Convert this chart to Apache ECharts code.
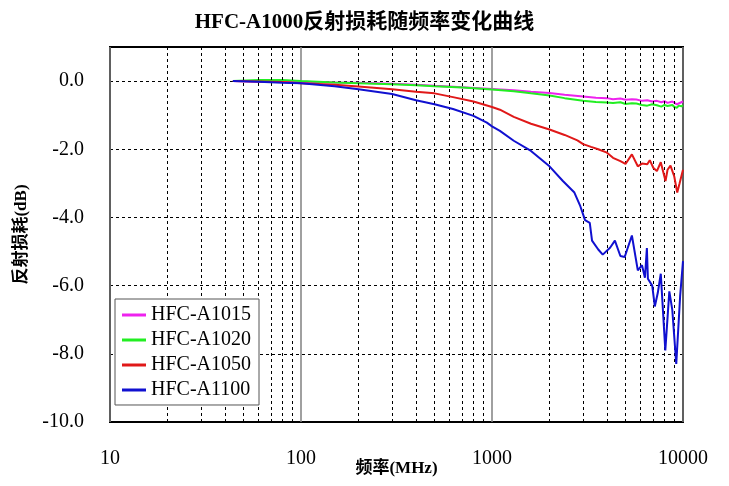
<!DOCTYPE html>
<html><head><meta charset="utf-8">
<script src="https://cdn.jsdelivr.net/npm/echarts@6/dist/echarts.min.js"></script>
<style>html,body{margin:0;padding:0;background:#fff}#c{width:729px;height:486px}</style>
</head><body><div id="c"></div>
<script>
// Frequencies (MHz) and return loss (dB)
const freqA1015 = [44, 60, 80, 100, 150, 200, 300, 400, 500, 700, 1000, 1300, 1600, 2000, 2400, 3000, 3500, 4000, 4300, 4700, 5000, 5400, 5700, 6100, 6500, 6900, 7300, 7700, 8000, 8300, 8500, 8800, 9000, 9300, 9500, 9800, 10000];
const lossA1015 = [0, -0.02, -0.02, -0.02, -0.04, -0.05, -0.08, -0.11, -0.14, -0.18, -0.23, -0.27, -0.31, -0.35, -0.40, -0.45, -0.49, -0.50, -0.53, -0.51, -0.55, -0.53, -0.54, -0.58, -0.56, -0.60, -0.58, -0.62, -0.59, -0.64, -0.66, -0.60, -0.63, -0.68, -0.65, -0.62, -0.60];
const freqA1020 = freqA1015;
const lossA1020 = [0, 0.03, 0.03, 0.0, -0.04, -0.06, -0.09, -0.12, -0.15, -0.19, -0.25, -0.30, -0.36, -0.42, -0.50, -0.58, -0.61, -0.63, -0.64, -0.62, -0.67, -0.65, -0.66, -0.70, -0.72, -0.68, -0.71, -0.75, -0.70, -0.73, -0.77, -0.70, -0.76, -0.78, -0.72, -0.74, -0.71];
const freqA1050 = [44, 60, 80, 100, 150, 200, 300, 400, 500, 625, 800, 1000, 1100, 1300, 1600, 2000, 2400, 2800, 3000, 3300, 3600, 4000, 4300, 4700, 5000, 5400, 5800, 6100, 6500, 6700, 7000, 7300, 7650, 8100, 8300, 8600, 9000, 9330, 9600, 10000];
const lossA1050 = [0, -0.01, -0.03, -0.06, -0.11, -0.16, -0.24, -0.31, -0.36, -0.47, -0.60, -0.76, -0.84, -1.05, -1.25, -1.42, -1.58, -1.74, -1.85, -1.93, -2.0, -2.1, -2.25, -2.35, -2.43, -2.15, -2.50, -2.42, -2.44, -2.32, -2.55, -2.64, -2.38, -2.93, -2.60, -2.48, -2.80, -3.27, -3.00, -2.60];
const freqA1100 = [44, 60, 80, 100, 150, 200, 300, 400, 500, 625, 800, 940, 1000, 1100, 1300, 1600, 2000, 2350, 2700, 2900, 3070, 3250, 3340, 3600, 3800, 4150, 4400, 4700, 4950, 5400, 5800, 6100, 6320, 6470, 6550, 6900, 7120, 7380, 7650, 8080, 8480, 8790, 9220, 9660, 10000];
const lossA1100 = [0, -0.02, -0.05, -0.06, -0.15, -0.24, -0.38, -0.56, -0.68, -0.82, -1.02, -1.22, -1.33, -1.46, -1.75, -2.05, -2.50, -2.93, -3.27, -3.67, -4.08, -4.16, -4.68, -4.94, -5.09, -4.89, -4.68, -5.13, -5.16, -4.53, -5.55, -5.40, -5.77, -4.90, -5.80, -6.00, -6.61, -6.21, -5.65, -7.90, -6.17, -6.71, -8.30, -6.31, -5.28];
const seriesNames = ['HFC-A1015', 'HFC-A1020', 'HFC-A1050', 'HFC-A1100'];
const decades = [10, 100, 1000];
const minorSteps = [2, 3, 4, 5, 6, 7, 8, 9];

const seriesColors = ['#ee22ee', '#22ee22', '#e01818', '#1010d0'];
const FONT = "'Liberation Serif', 'Noto Sans CJK SC', serif";
const zip = (f, v) => f.map((x, i) => [x, v[i]]);
const allData = [zip(freqA1015, lossA1015), zip(freqA1020, lossA1020), zip(freqA1050, lossA1050), zip(freqA1100, lossA1100)];
const minorLines = [];
decades.forEach(d => minorSteps.forEach(k => minorLines.push({ xAxis: d * k })));

const chart = echarts.init(document.getElementById('c'), null, { renderer: 'canvas' });
chart.setOption({
  animation: false,
  backgroundColor: '#fff',
  title: {
    text: 'HFC-A1000反射损耗随频率变化曲线',
    left: 'center', top: 7,
    textStyle: { fontFamily: FONT, fontSize: 21, fontWeight: 'bold', color: '#000' }
  },
  legend: {
    data: seriesNames, z: 50, zlevel: 1,
    orient: 'vertical', left: 115, top: 299,
    backgroundColor: '#fff', borderColor: '#555', borderWidth: 1,
    padding: [6, 8, 5, 7], itemGap: 5,
    icon: 'rect', itemWidth: 24, itemHeight: 3,
    textStyle: { fontFamily: FONT, fontSize: 20, color: '#000' }
  },
  grid: { left: 110, right: 46, top: 47, bottom: 64, show: true, borderColor: '#000', borderWidth: 2,
    backgroundColor: 'transparent', outerBoundsMode: 'none', containLabel: false },
  xAxis: {
    type: 'log', logBase: 10, min: 10, max: 10000,
    name: '频率(MHz)', nameLocation: 'middle', nameGap: 38, nameMoveOverlap: false,
    nameTextStyle: { fontFamily: FONT, fontSize: 17, fontWeight: 'bold', color: '#000' },
    axisLine: { show: false }, axisTick: { show: false },
    axisLabel: { fontFamily: FONT, fontSize: 20, color: '#000', margin: 27, formatter: v => String(v) },
    splitLine: { show: true, lineStyle: { color: '#808080', width: 1.5, type: 'solid' } }
  },
  yAxis: {
    type: 'value', min: -10, max: 1, interval: 2,
    name: '反射损耗(dB)', nameLocation: 'middle', nameGap: 80, nameRotate: 90, nameMoveOverlap: false,
    nameTextStyle: { fontFamily: FONT, fontSize: 17, fontWeight: 'bold', color: '#000' },
    axisLine: { show: false }, axisTick: { show: false },
    axisLabel: { fontFamily: FONT, fontSize: 20, color: '#000', margin: 26,
      formatter: v => (v > 0 ? '' : v.toFixed(1)) },
    splitLine: { show: true, lineStyle: { color: '#000', width: 1, type: [3, 3] } }
  },
  series: [
    {
      name: '__minor', type: 'line', data: [], z: 1, silent: true,
      markLine: { silent: true, symbol: ['none', 'none'], label: { show: false }, animation: false,
        lineStyle: { color: '#000', width: 1, type: [3, 3] }, data: minorLines }
    }
  ].concat(seriesNames.map((n, i) => ({
    name: n, type: 'line', data: allData[i], z: 3 + i,
    symbol: 'none', showSymbol: false,
    lineStyle: { color: seriesColors[i], width: 2 }, itemStyle: { color: seriesColors[i] }
  })))
});
</script></body></html>
